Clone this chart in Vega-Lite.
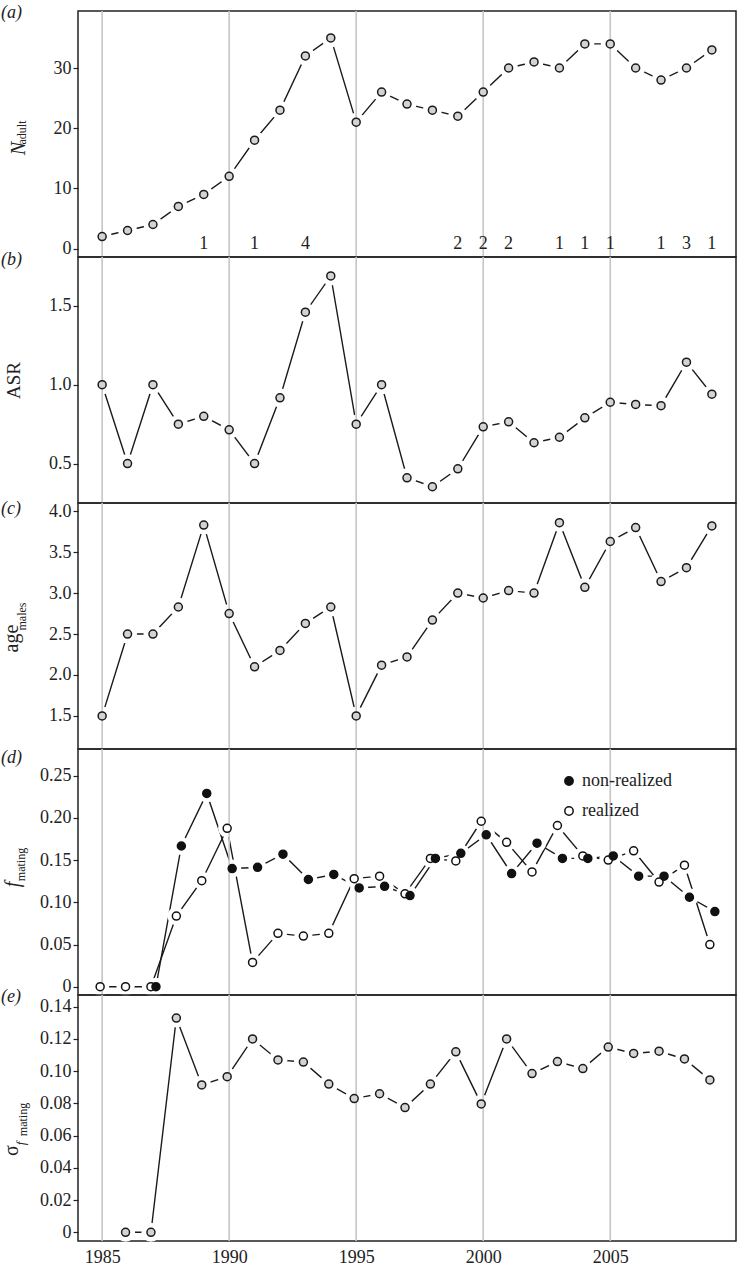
{
  "$schema": "https://vega.github.io/schema/vega-lite/v6.json",
  "autosize": {"type": "none"},
  "padding": {"left": 78, "top": 11, "right": 659, "bottom": 1255},
  "background": "white",
  "spacing": 0,
  "bounds": "flush",
  "resolve": {"scale": {"x": "independent", "y": "independent", "fill": "independent"}},
  "config": {
    "font": "Liberation Serif",
    "view": {"stroke": "#222", "strokeWidth": 1.5},
    "axis": {"labelFont": "Liberation Serif", "titleFont": "Liberation Serif", "labelColor": "#222", "titleColor": "#222", "titleFontWeight": "normal", "labelFontSize": 18, "labelOverlap": false},
    "legend": {"labelFont": "Liberation Serif"},
    "title": {"font": "Liberation Serif", "fontWeight": "normal", "color": "#222"}
  },
  "datasets": {
    "main": [
      {"year": 1985, "N": 2, "ASR": 1.0, "age": 1.5},
      {"year": 1986, "N": 3, "ASR": 0.5, "age": 2.5},
      {"year": 1987, "N": 4, "ASR": 1.0, "age": 2.5},
      {"year": 1988, "N": 7, "ASR": 0.75, "age": 2.83},
      {"year": 1989, "N": 9, "ASR": 0.8, "age": 3.83},
      {"year": 1990, "N": 12, "ASR": 0.714, "age": 2.75},
      {"year": 1991, "N": 18, "ASR": 0.5, "age": 2.1},
      {"year": 1992, "N": 23, "ASR": 0.917, "age": 2.3},
      {"year": 1993, "N": 32, "ASR": 1.46, "age": 2.63},
      {"year": 1994, "N": 35, "ASR": 1.69, "age": 2.83},
      {"year": 1995, "N": 21, "ASR": 0.75, "age": 1.5},
      {"year": 1996, "N": 26, "ASR": 1.0, "age": 2.12},
      {"year": 1997, "N": 24, "ASR": 0.41, "age": 2.22},
      {"year": 1998, "N": 23, "ASR": 0.353, "age": 2.67},
      {"year": 1999, "N": 22, "ASR": 0.467, "age": 3.0},
      {"year": 2000, "N": 26, "ASR": 0.733, "age": 2.94},
      {"year": 2001, "N": 30, "ASR": 0.765, "age": 3.03},
      {"year": 2002, "N": 31, "ASR": 0.632, "age": 3.0},
      {"year": 2003, "N": 30, "ASR": 0.667, "age": 3.86},
      {"year": 2004, "N": 34, "ASR": 0.79, "age": 3.07},
      {"year": 2005, "N": 34, "ASR": 0.889, "age": 3.63},
      {"year": 2006, "N": 30, "ASR": 0.875, "age": 3.8},
      {"year": 2007, "N": 28, "ASR": 0.867, "age": 3.14},
      {"year": 2008, "N": 30, "ASR": 1.143, "age": 3.31},
      {"year": 2009, "N": 33, "ASR": 0.94, "age": 3.82}
    ],
    "sigma": [
      {"year": 1986, "s": 0}, {"year": 1987, "s": 0}, {"year": 1988, "s": 0.133},
      {"year": 1989, "s": 0.0915}, {"year": 1990, "s": 0.0966}, {"year": 1991, "s": 0.12},
      {"year": 1992, "s": 0.107}, {"year": 1993, "s": 0.1057}, {"year": 1994, "s": 0.092},
      {"year": 1995, "s": 0.083}, {"year": 1996, "s": 0.086}, {"year": 1997, "s": 0.0774},
      {"year": 1998, "s": 0.092}, {"year": 1999, "s": 0.112}, {"year": 2000, "s": 0.0797},
      {"year": 2001, "s": 0.12}, {"year": 2002, "s": 0.0985}, {"year": 2003, "s": 0.106},
      {"year": 2004, "s": 0.1016}, {"year": 2005, "s": 0.115}, {"year": 2006, "s": 0.111},
      {"year": 2007, "s": 0.1124}, {"year": 2008, "s": 0.1076}, {"year": 2009, "s": 0.0946}
    ],
    "fm": [
      {"year": 1985, "type": "realized", "f": 0},
      {"year": 1986, "type": "realized", "f": 0},
      {"year": 1987, "type": "realized", "f": 0},
      {"year": 1988, "type": "realized", "f": 0.0837},
      {"year": 1989, "type": "realized", "f": 0.1256},
      {"year": 1990, "type": "realized", "f": 0.1876},
      {"year": 1991, "type": "realized", "f": 0.0288},
      {"year": 1992, "type": "realized", "f": 0.0632},
      {"year": 1993, "type": "realized", "f": 0.06},
      {"year": 1994, "type": "realized", "f": 0.0632},
      {"year": 1995, "type": "realized", "f": 0.128},
      {"year": 1996, "type": "realized", "f": 0.131},
      {"year": 1997, "type": "realized", "f": 0.11},
      {"year": 1998, "type": "realized", "f": 0.152},
      {"year": 1999, "type": "realized", "f": 0.149},
      {"year": 2000, "type": "realized", "f": 0.196},
      {"year": 2001, "type": "realized", "f": 0.171},
      {"year": 2002, "type": "realized", "f": 0.136},
      {"year": 2003, "type": "realized", "f": 0.191},
      {"year": 2004, "type": "realized", "f": 0.155},
      {"year": 2005, "type": "realized", "f": 0.15},
      {"year": 2006, "type": "realized", "f": 0.161},
      {"year": 2007, "type": "realized", "f": 0.124},
      {"year": 2008, "type": "realized", "f": 0.144},
      {"year": 2009, "type": "realized", "f": 0.05},
      {"year": 1987, "type": "non-realized", "f": 0},
      {"year": 1988, "type": "non-realized", "f": 0.1667},
      {"year": 1989, "type": "non-realized", "f": 0.229},
      {"year": 1990, "type": "non-realized", "f": 0.14},
      {"year": 1991, "type": "non-realized", "f": 0.1414},
      {"year": 1992, "type": "non-realized", "f": 0.157},
      {"year": 1993, "type": "non-realized", "f": 0.127},
      {"year": 1994, "type": "non-realized", "f": 0.133},
      {"year": 1995, "type": "non-realized", "f": 0.117},
      {"year": 1996, "type": "non-realized", "f": 0.119},
      {"year": 1997, "type": "non-realized", "f": 0.108},
      {"year": 1998, "type": "non-realized", "f": 0.152},
      {"year": 1999, "type": "non-realized", "f": 0.158},
      {"year": 2000, "type": "non-realized", "f": 0.18},
      {"year": 2001, "type": "non-realized", "f": 0.134},
      {"year": 2002, "type": "non-realized", "f": 0.17},
      {"year": 2003, "type": "non-realized", "f": 0.152},
      {"year": 2004, "type": "non-realized", "f": 0.152},
      {"year": 2005, "type": "non-realized", "f": 0.155},
      {"year": 2006, "type": "non-realized", "f": 0.131},
      {"year": 2007, "type": "non-realized", "f": 0.131},
      {"year": 2008, "type": "non-realized", "f": 0.106},
      {"year": 2009, "type": "non-realized", "f": 0.089}
    ],
    "grid": [{"year": 1985}, {"year": 1990}, {"year": 1995}, {"year": 2000}, {"year": 2005}],
    "counts": [
      {"year": 1989, "n": "1"}, {"year": 1991, "n": "1"}, {"year": 1993, "n": "4"},
      {"year": 1999, "n": "2"}, {"year": 2000, "n": "2"}, {"year": 2001, "n": "2"},
      {"year": 2003, "n": "1"}, {"year": 2004, "n": "1"}, {"year": 2005, "n": "1"},
      {"year": 2007, "n": "1"}, {"year": 2008, "n": "3"}, {"year": 2009, "n": "1"}
    ]
  },
  "vconcat": [
    {
      "width": 658, "height": 246,
      "title": {"text": "(a)", "anchor": "start", "frame": "group", "orient": "top", "offset": 0, "dx": -77, "dy": 21, "baseline": "middle", "fontSize": 18, "fontStyle": "italic"},
      "data": {"name": "main"},
      "layer": [
        {"mark": {"type": "line", "color": "#1a1a1a", "strokeWidth": 1.4},
         "encoding": {
           "x": {"field": "year", "type": "quantitative", "scale": {"domain": [1984.05, 2009.95], "nice": false, "zero": false},
                 "axis": {"values": [1985, 1990, 1995, 2000, 2005], "labels": false, "ticks": false, "domain": false, "grid": false, "title": "adult", "titleFont": "Liberation Serif", "titleFontSize": 12, "titleAngle": 270, "titleX": -62, "titleY": -125, "titleAlign": "center", "titleBaseline": "top"}},
           "y": {"field": "N", "type": "quantitative", "scale": {"domain": [-1.4, 39.47], "nice": false, "zero": false},
                 "axis": {"values": [0, 10, 20, 30], "tickCount": 12, "format": "d", "labelFont": "Liberation Serif", "labelFontSize": 18, "labelOverlap": false, "tickSize": 5, "tickColor": "#222", "tickWidth": 1.2, "domain": false, "grid": false, "labelPadding": 2, "title": "N", "titleFont": "Liberation Serif", "titleFontStyle": "italic", "titleFontSize": 20, "titleAngle": 270, "titleX": -54, "titleY": 137, "titleAlign": "center", "titleBaseline": "alphabetic"}}
         }},
        {"mark": {"type": "point", "filled": true, "fill": "white", "strokeWidth": 0, "size": 361, "opacity": 1},
         "encoding": {
           "x": {"field": "year", "type": "quantitative", "scale": {"domain": [1984.05, 2009.95], "nice": false, "zero": false}},
           "y": {"field": "N", "type": "quantitative", "scale": {"domain": [-1.4, 39.47], "nice": false, "zero": false}}
         }},
        {"data": {"name": "grid"}, "mark": {"type": "rule", "color": "#c6c6c6", "strokeWidth": 1.6},
         "encoding": {"x": {"field": "year", "type": "quantitative", "scale": {"domain": [1984.05, 2009.95], "nice": false, "zero": false}}}},
        {"mark": {"type": "point", "filled": true, "fill": "#d3d3d3", "stroke": "#1a1a1a", "strokeWidth": 1.5, "size": 64, "opacity": 1},
         "encoding": {
           "x": {"field": "year", "type": "quantitative", "scale": {"domain": [1984.05, 2009.95], "nice": false, "zero": false}},
           "y": {"field": "N", "type": "quantitative", "scale": {"domain": [-1.4, 39.47], "nice": false, "zero": false}}
         }},
        {"data": {"name": "counts"}, "mark": {"type": "text", "fontSize": 18, "baseline": "alphabetic", "color": "#222", "font": "Liberation Serif"},
         "encoding": {
           "x": {"field": "year", "type": "quantitative", "scale": {"domain": [1984.05, 2009.95], "nice": false, "zero": false}},
           "y": {"datum": 0, "type": "quantitative", "scale": {"domain": [-1.4, 39.47], "nice": false, "zero": false}},
           "text": {"field": "n"}
         }}
      ]
    },
    {
      "width": 658, "height": 246,
      "title": {"text": "(b)", "anchor": "start", "frame": "group", "orient": "top", "offset": 0, "dx": -77, "dy": 22, "baseline": "middle", "fontSize": 18, "fontStyle": "italic"},
      "data": {"name": "main"},
      "layer": [
        {"mark": {"type": "line", "color": "#1a1a1a", "strokeWidth": 1.4},
         "encoding": {
           "x": {"field": "year", "type": "quantitative", "scale": {"domain": [1984.05, 2009.95], "nice": false, "zero": false}, "axis": null},
           "y": {"field": "ASR", "type": "quantitative", "scale": {"domain": [0.25, 1.81], "nice": false, "zero": false},
                 "axis": {"values": [0.5, 1.0, 1.5], "tickCount": 12, "format": ".1f", "labelFont": "Liberation Serif", "labelFontSize": 18, "labelOverlap": false, "tickSize": 5, "tickColor": "#222", "tickWidth": 1.2, "domain": false, "grid": false, "labelPadding": 2, "title": "ASR", "titleFont": "Liberation Serif", "titleFontSize": 19, "titleAngle": 270, "titleX": -59, "titleY": 123, "titleAlign": "center", "titleBaseline": "alphabetic"}}
         }},
        {"mark": {"type": "point", "filled": true, "fill": "white", "strokeWidth": 0, "size": 361, "opacity": 1},
         "encoding": {
           "x": {"field": "year", "type": "quantitative", "scale": {"domain": [1984.05, 2009.95], "nice": false, "zero": false}, "axis": null},
           "y": {"field": "ASR", "type": "quantitative", "scale": {"domain": [0.25, 1.81], "nice": false, "zero": false}}
         }},
        {"data": {"name": "grid"}, "mark": {"type": "rule", "color": "#c6c6c6", "strokeWidth": 1.6},
         "encoding": {"x": {"field": "year", "type": "quantitative", "scale": {"domain": [1984.05, 2009.95], "nice": false, "zero": false}, "axis": null}}},
        {"mark": {"type": "point", "filled": true, "fill": "#d3d3d3", "stroke": "#1a1a1a", "strokeWidth": 1.5, "size": 64, "opacity": 1},
         "encoding": {
           "x": {"field": "year", "type": "quantitative", "scale": {"domain": [1984.05, 2009.95], "nice": false, "zero": false}, "axis": null},
           "y": {"field": "ASR", "type": "quantitative", "scale": {"domain": [0.25, 1.81], "nice": false, "zero": false}}
         }}
      ]
    },
    {
      "width": 658, "height": 246,
      "title": {"text": "(c)", "anchor": "start", "frame": "group", "orient": "top", "offset": 0, "dx": -77, "dy": 25, "baseline": "middle", "fontSize": 18, "fontStyle": "italic"},
      "data": {"name": "main"},
      "layer": [
        {"mark": {"type": "line", "color": "#1a1a1a", "strokeWidth": 1.4},
         "encoding": {
           "x": {"field": "year", "type": "quantitative", "scale": {"domain": [1984.05, 2009.95], "nice": false, "zero": false},
                 "axis": {"values": [1985, 1990, 1995, 2000, 2005], "labels": false, "ticks": false, "domain": false, "grid": false, "title": "males", "titleFont": "Liberation Serif", "titleFontSize": 12, "titleAngle": 270, "titleX": -62, "titleY": -133, "titleAlign": "center", "titleBaseline": "top"}},
           "y": {"field": "age", "type": "quantitative", "scale": {"domain": [1.096, 4.1], "nice": false, "zero": false},
                 "axis": {"values": [1.5, 2.0, 2.5, 3.0, 3.5, 4.0], "tickCount": 12, "format": ".1f", "labelFont": "Liberation Serif", "labelFontSize": 18, "labelOverlap": false, "tickSize": 5, "tickColor": "#222", "tickWidth": 1.2, "domain": false, "grid": false, "labelPadding": 2, "title": "age", "titleFont": "Liberation Serif", "titleFontSize": 20, "titleAngle": 270, "titleX": -61, "titleY": 135, "titleAlign": "center", "titleBaseline": "alphabetic"}}
         }},
        {"mark": {"type": "point", "filled": true, "fill": "white", "strokeWidth": 0, "size": 361, "opacity": 1},
         "encoding": {
           "x": {"field": "year", "type": "quantitative", "scale": {"domain": [1984.05, 2009.95], "nice": false, "zero": false}},
           "y": {"field": "age", "type": "quantitative", "scale": {"domain": [1.096, 4.1], "nice": false, "zero": false}}
         }},
        {"data": {"name": "grid"}, "mark": {"type": "rule", "color": "#c6c6c6", "strokeWidth": 1.6},
         "encoding": {"x": {"field": "year", "type": "quantitative", "scale": {"domain": [1984.05, 2009.95], "nice": false, "zero": false}}}},
        {"mark": {"type": "point", "filled": true, "fill": "#d3d3d3", "stroke": "#1a1a1a", "strokeWidth": 1.5, "size": 64, "opacity": 1},
         "encoding": {
           "x": {"field": "year", "type": "quantitative", "scale": {"domain": [1984.05, 2009.95], "nice": false, "zero": false}},
           "y": {"field": "age", "type": "quantitative", "scale": {"domain": [1.096, 4.1], "nice": false, "zero": false}}
         }}
      ]
    },
    {
      "width": 658, "height": 246,
      "title": {"text": "(d)", "anchor": "start", "frame": "group", "orient": "top", "offset": 0, "dx": -77, "dy": 28, "baseline": "middle", "fontSize": 18, "fontStyle": "italic"},
      "data": {"name": "fm"},
      "layer": [
        {"transform": [{"filter": "datum.type === 'realized'"}],
         "mark": {"type": "line", "color": "#1a1a1a", "strokeWidth": 1.4, "xOffset": -2},
         "encoding": {
           "x": {"field": "year", "type": "quantitative", "scale": {"domain": [1984.05, 2009.95], "nice": false, "zero": false},
                 "axis": {"values": [1985, 1990, 1995, 2000, 2005], "labels": false, "ticks": false, "domain": false, "grid": false, "title": "mating", "titleFont": "Liberation Serif", "titleFontSize": 12, "titleAngle": 270, "titleX": -63, "titleY": -131, "titleAlign": "center", "titleBaseline": "top"}},
           "y": {"field": "f", "type": "quantitative", "scale": {"domain": [-0.0098, 0.2816], "nice": false, "zero": false},
                 "axis": {"values": [0, 0.05, 0.1, 0.15, 0.2, 0.25], "tickCount": 12, "labelExpr": "datum.value == 0 ? '0' : format(datum.value, '.2f')", "labelFont": "Liberation Serif", "labelFontSize": 18, "labelOverlap": false, "tickSize": 5, "tickColor": "#222", "tickWidth": 1.2, "domain": false, "grid": false, "labelPadding": 2, "title": "f", "titleFont": "Liberation Serif", "titleFontStyle": "italic", "titleFontSize": 20, "titleAngle": 270, "titleX": -60, "titleY": 135, "titleAlign": "center", "titleBaseline": "alphabetic"}}
         }},
        {"transform": [{"filter": "datum.type === 'non-realized'"}],
         "mark": {"type": "line", "color": "#1a1a1a", "strokeWidth": 1.4, "xOffset": 3},
         "encoding": {
           "x": {"field": "year", "type": "quantitative", "scale": {"domain": [1984.05, 2009.95], "nice": false, "zero": false}},
           "y": {"field": "f", "type": "quantitative", "scale": {"domain": [-0.0098, 0.2816], "nice": false, "zero": false}}
         }},
        {"transform": [{"filter": "datum.type === 'realized'"}],
         "mark": {"type": "point", "filled": true, "fill": "white", "strokeWidth": 0, "size": 330, "opacity": 1, "xOffset": -2},
         "encoding": {
           "x": {"field": "year", "type": "quantitative", "scale": {"domain": [1984.05, 2009.95], "nice": false, "zero": false}},
           "y": {"field": "f", "type": "quantitative", "scale": {"domain": [-0.0098, 0.2816], "nice": false, "zero": false}}
         }},
        {"transform": [{"filter": "datum.type === 'non-realized'"}],
         "mark": {"type": "point", "filled": true, "fill": "white", "strokeWidth": 0, "size": 330, "opacity": 1, "xOffset": 3},
         "encoding": {
           "x": {"field": "year", "type": "quantitative", "scale": {"domain": [1984.05, 2009.95], "nice": false, "zero": false}},
           "y": {"field": "f", "type": "quantitative", "scale": {"domain": [-0.0098, 0.2816], "nice": false, "zero": false}}
         }},
        {"data": {"name": "grid"}, "mark": {"type": "rule", "color": "#c6c6c6", "strokeWidth": 1.6},
         "encoding": {"x": {"field": "year", "type": "quantitative", "scale": {"domain": [1984.05, 2009.95], "nice": false, "zero": false}}}},
        {"transform": [{"filter": "datum.type === 'realized'"}],
         "mark": {"type": "point", "filled": true, "stroke": "#111", "strokeWidth": 1.5, "size": 64, "opacity": 1, "xOffset": -2},
         "encoding": {
           "x": {"field": "year", "type": "quantitative", "scale": {"domain": [1984.05, 2009.95], "nice": false, "zero": false}},
           "y": {"field": "f", "type": "quantitative", "scale": {"domain": [-0.0098, 0.2816], "nice": false, "zero": false}},
           "fill": {"field": "type", "type": "nominal", "scale": {"domain": ["non-realized", "realized"], "range": ["#111111", "#ffffff"]},
                    "legend": {"orient": "none", "legendX": 482, "legendY": 23, "title": null, "symbolType": "circle", "symbolSize": 70, "symbolStrokeColor": "#111", "symbolStrokeWidth": 1.5, "labelFont": "Liberation Serif", "labelFontSize": 18, "labelColor": "#222", "labelOffset": 4, "rowPadding": 12, "padding": 0}}
         }},
        {"transform": [{"filter": "datum.type === 'non-realized'"}],
         "mark": {"type": "point", "filled": true, "stroke": "#111", "strokeWidth": 1.5, "size": 64, "opacity": 1, "xOffset": 3},
         "encoding": {
           "x": {"field": "year", "type": "quantitative", "scale": {"domain": [1984.05, 2009.95], "nice": false, "zero": false}},
           "y": {"field": "f", "type": "quantitative", "scale": {"domain": [-0.0098, 0.2816], "nice": false, "zero": false}},
           "fill": {"field": "type", "type": "nominal", "scale": {"domain": ["non-realized", "realized"], "range": ["#111111", "#ffffff"]},
                    "legend": {"orient": "none", "legendX": 482, "legendY": 23, "title": null, "symbolType": "circle", "symbolSize": 70, "symbolStrokeColor": "#111", "symbolStrokeWidth": 1.5, "labelFont": "Liberation Serif", "labelFontSize": 18, "labelColor": "#222", "labelOffset": 4, "rowPadding": 12, "padding": 0}}
         }}
      ]
    },
    {
      "width": 658, "height": 246,
      "title": {"text": "(e)", "anchor": "start", "frame": "group", "orient": "top", "offset": 0, "dx": -77, "dy": 21, "baseline": "middle", "fontSize": 18, "fontStyle": "italic"},
      "data": {"name": "sigma"},
      "resolve": {"axis": {"x": "independent"}},
      "layer": [
        {"mark": {"type": "line", "color": "#1a1a1a", "strokeWidth": 1.4, "xOffset": -2},
         "encoding": {
           "x": {"field": "year", "type": "quantitative", "scale": {"domain": [1984.05, 2009.95], "nice": false, "zero": false},
                 "axis": {"values": [1985, 1990, 1995, 2000, 2005], "tickCount": 12, "format": "d", "labels": true, "ticks": false, "domain": false, "grid": false, "labelPadding": 7, "labelFont": "Liberation Serif", "labelFontSize": 18, "title": "f", "titleFont": "Liberation Serif", "titleFontStyle": "italic", "titleFontSize": 13, "titleAngle": 270, "titleX": -64, "titleY": -98, "titleAlign": "center", "titleBaseline": "top"}},
           "y": {"field": "s", "type": "quantitative", "scale": {"domain": [-0.0054, 0.1473], "nice": false, "zero": false},
                 "axis": {"values": [0, 0.02, 0.04, 0.06, 0.08, 0.1, 0.12, 0.14], "tickCount": 12, "labelExpr": "datum.value == 0 ? '0' : format(datum.value, '.2f')", "labelFont": "Liberation Serif", "labelFontSize": 18, "labelOverlap": false, "tickSize": 5, "tickColor": "#222", "tickWidth": 1.2, "domain": false, "grid": false, "labelPadding": 2, "title": "σ", "titleFont": "Liberation Serif", "titleFontSize": 20, "titleAngle": 270, "titleX": -61, "titleY": 155, "titleAlign": "center", "titleBaseline": "alphabetic"}}
         }},
        {"mark": {"type": "point", "filled": true, "fill": "white", "strokeWidth": 0, "size": 361, "opacity": 1, "xOffset": -2},
         "encoding": {
           "x": {"field": "year", "type": "quantitative", "scale": {"domain": [1984.05, 2009.95], "nice": false, "zero": false}, "axis": null},
           "y": {"field": "s", "type": "quantitative", "scale": {"domain": [-0.0054, 0.1473], "nice": false, "zero": false}}
         }},
        {"data": {"name": "grid"}, "mark": {"type": "rule", "color": "#c6c6c6", "strokeWidth": 1.6},
         "encoding": {"x": {"field": "year", "type": "quantitative", "scale": {"domain": [1984.05, 2009.95], "nice": false, "zero": false}, "axis": null}}},
        {"mark": {"type": "point", "filled": true, "fill": "#d3d3d3", "stroke": "#1a1a1a", "strokeWidth": 1.5, "size": 64, "opacity": 1, "xOffset": -2},
         "encoding": {
           "x": {"field": "year", "type": "quantitative", "scale": {"domain": [1984.05, 2009.95], "nice": false, "zero": false},
                 "axis": {"orient": "bottom", "values": [1985], "labels": false, "ticks": false, "domain": false, "grid": false, "title": "mating", "titleFont": "Liberation Serif", "titleFontSize": 12, "titleAngle": 270, "titleX": -61, "titleY": -122, "titleAlign": "center", "titleBaseline": "top"}},
           "y": {"field": "s", "type": "quantitative", "scale": {"domain": [-0.0054, 0.1473], "nice": false, "zero": false}}
         }}
      ]
    }
  ]
}
